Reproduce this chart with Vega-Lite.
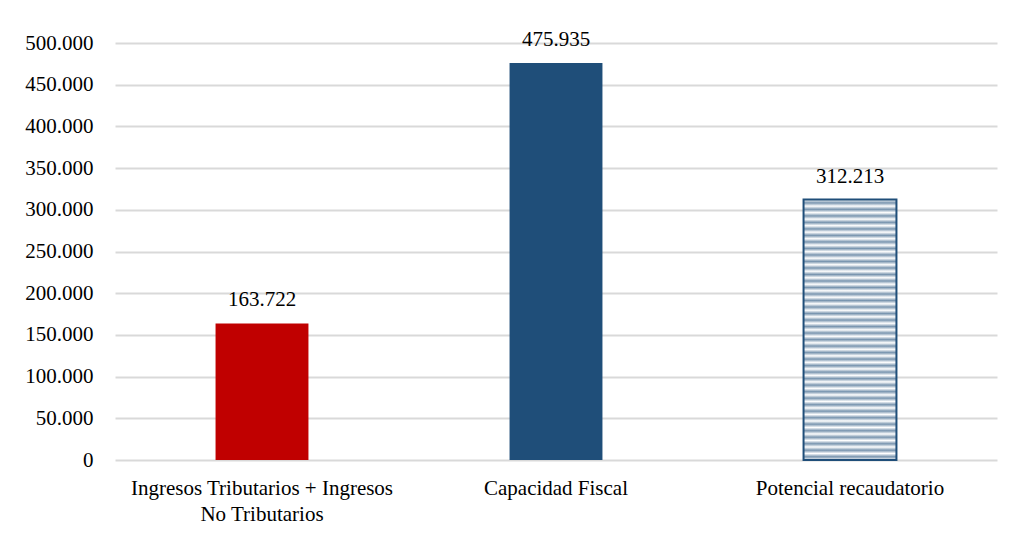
{
  "$schema": "https://vega.github.io/schema/vega-lite/v6.json",
  "width": 882,
  "height": 417,
  "autosize": {"type": "none"},
  "padding": {"left": 115, "top": 43, "right": 14, "bottom": 78},
  "background": "white",
  "config": {
    "locale": {"number": {"decimal": ",", "thousands": ".", "grouping": [3], "currency": ["", ""]}},
    "view": {"stroke": null},
    "font": "Liberation Serif"
  },
  "data": {
    "values": [
      {"categoria": "Ingresos Tributarios + Ingresos No Tributarios", "valor": 163722},
      {"categoria": "Capacidad Fiscal", "valor": 475935},
      {"categoria": "Potencial recaudatorio", "valor": 312213}
    ]
  },
  "encoding": {
    "x": {
      "field": "categoria",
      "type": "nominal",
      "sort": null,
      "scale": {"paddingInner": 0.684, "paddingOuter": 0.342},
      "axis": {
        "title": null,
        "labelAngle": 0,
        "domain": false,
        "ticks": false,
        "labelFont": "Liberation Serif",
        "labelFontSize": 21,
        "labelColor": "#000000",
        "labelPadding": 17,
        "labelLimit": 400,
        "labelLineHeight": 26,
        "labelExpr": "datum.value == 'Ingresos Tributarios + Ingresos No Tributarios' ? ['Ingresos Tributarios + Ingresos', 'No Tributarios'] : datum.label"
      }
    },
    "y": {
      "field": "valor",
      "type": "quantitative",
      "scale": {"domain": [0, 500000], "nice": false},
      "axis": {
        "title": null,
        "values": [0, 50000, 100000, 150000, 200000, 250000, 300000, 350000, 400000, 450000, 500000],
        "format": ",d",
        "domain": false,
        "ticks": false,
        "labelFont": "Liberation Serif",
        "labelFontSize": 21,
        "labelColor": "#000000",
        "labelPadding": 22,
        "gridColor": "#d9d9d9",
        "gridWidth": 2
      }
    }
  },
  "layer": [
    {
      "transform": [{"filter": "datum.categoria != 'Potencial recaudatorio'"}],
      "mark": {"type": "bar"},
      "encoding": {
        "color": {
          "field": "categoria",
          "type": "nominal",
          "scale": {
            "domain": ["Ingresos Tributarios + Ingresos No Tributarios", "Capacidad Fiscal"],
            "range": ["#c00000", "#1f4e79"]
          },
          "legend": null
        }
      }
    },
    {
      "transform": [{"filter": "datum.categoria == 'Potencial recaudatorio'"}],
      "mark": {
        "type": "bar",
        "stroke": "#1f4e79",
        "strokeWidth": 2,
        "fill": {
          "gradient": "linear", "x1": 0, "y1": 0, "x2": 0, "y2": 1,
          "stops": [
            {"offset": 0, "color": "#ffffff"}, {"offset": 0.0125, "color": "#7995af"},
            {"offset": 0.025, "color": "#ffffff"}, {"offset": 0.0375, "color": "#7995af"},
            {"offset": 0.05, "color": "#ffffff"}, {"offset": 0.0625, "color": "#7995af"},
            {"offset": 0.075, "color": "#ffffff"}, {"offset": 0.0875, "color": "#7995af"},
            {"offset": 0.1, "color": "#ffffff"}, {"offset": 0.1125, "color": "#7995af"},
            {"offset": 0.125, "color": "#ffffff"}, {"offset": 0.1375, "color": "#7995af"},
            {"offset": 0.15, "color": "#ffffff"}, {"offset": 0.1625, "color": "#7995af"},
            {"offset": 0.175, "color": "#ffffff"}, {"offset": 0.1875, "color": "#7995af"},
            {"offset": 0.2, "color": "#ffffff"}, {"offset": 0.2125, "color": "#7995af"},
            {"offset": 0.225, "color": "#ffffff"}, {"offset": 0.2375, "color": "#7995af"},
            {"offset": 0.25, "color": "#ffffff"}, {"offset": 0.2625, "color": "#7995af"},
            {"offset": 0.275, "color": "#ffffff"}, {"offset": 0.2875, "color": "#7995af"},
            {"offset": 0.3, "color": "#ffffff"}, {"offset": 0.3125, "color": "#7995af"},
            {"offset": 0.325, "color": "#ffffff"}, {"offset": 0.3375, "color": "#7995af"},
            {"offset": 0.35, "color": "#ffffff"}, {"offset": 0.3625, "color": "#7995af"},
            {"offset": 0.375, "color": "#ffffff"}, {"offset": 0.3875, "color": "#7995af"},
            {"offset": 0.4, "color": "#ffffff"}, {"offset": 0.4125, "color": "#7995af"},
            {"offset": 0.425, "color": "#ffffff"}, {"offset": 0.4375, "color": "#7995af"},
            {"offset": 0.45, "color": "#ffffff"}, {"offset": 0.4625, "color": "#7995af"},
            {"offset": 0.475, "color": "#ffffff"}, {"offset": 0.4875, "color": "#7995af"},
            {"offset": 0.5, "color": "#ffffff"}, {"offset": 0.5125, "color": "#7995af"},
            {"offset": 0.525, "color": "#ffffff"}, {"offset": 0.5375, "color": "#7995af"},
            {"offset": 0.55, "color": "#ffffff"}, {"offset": 0.5625, "color": "#7995af"},
            {"offset": 0.575, "color": "#ffffff"}, {"offset": 0.5875, "color": "#7995af"},
            {"offset": 0.6, "color": "#ffffff"}, {"offset": 0.6125, "color": "#7995af"},
            {"offset": 0.625, "color": "#ffffff"}, {"offset": 0.6375, "color": "#7995af"},
            {"offset": 0.65, "color": "#ffffff"}, {"offset": 0.6625, "color": "#7995af"},
            {"offset": 0.675, "color": "#ffffff"}, {"offset": 0.6875, "color": "#7995af"},
            {"offset": 0.7, "color": "#ffffff"}, {"offset": 0.7125, "color": "#7995af"},
            {"offset": 0.725, "color": "#ffffff"}, {"offset": 0.7375, "color": "#7995af"},
            {"offset": 0.75, "color": "#ffffff"}, {"offset": 0.7625, "color": "#7995af"},
            {"offset": 0.775, "color": "#ffffff"}, {"offset": 0.7875, "color": "#7995af"},
            {"offset": 0.8, "color": "#ffffff"}, {"offset": 0.8125, "color": "#7995af"},
            {"offset": 0.825, "color": "#ffffff"}, {"offset": 0.8375, "color": "#7995af"},
            {"offset": 0.85, "color": "#ffffff"}, {"offset": 0.8625, "color": "#7995af"},
            {"offset": 0.875, "color": "#ffffff"}, {"offset": 0.8875, "color": "#7995af"},
            {"offset": 0.9, "color": "#ffffff"}, {"offset": 0.9125, "color": "#7995af"},
            {"offset": 0.925, "color": "#ffffff"}, {"offset": 0.9375, "color": "#7995af"},
            {"offset": 0.95, "color": "#ffffff"}, {"offset": 0.9625, "color": "#7995af"},
            {"offset": 0.975, "color": "#ffffff"}, {"offset": 0.9875, "color": "#7995af"},
            {"offset": 1, "color": "#ffffff"}
          ]
        }
      }
    },
    {
      "mark": {"type": "text", "baseline": "alphabetic", "dy": -17, "fontSize": 21, "font": "Liberation Serif", "color": "#000000"},
      "encoding": {
        "text": {"field": "valor", "type": "quantitative", "format": ",d"}
      }
    }
  ]
}
